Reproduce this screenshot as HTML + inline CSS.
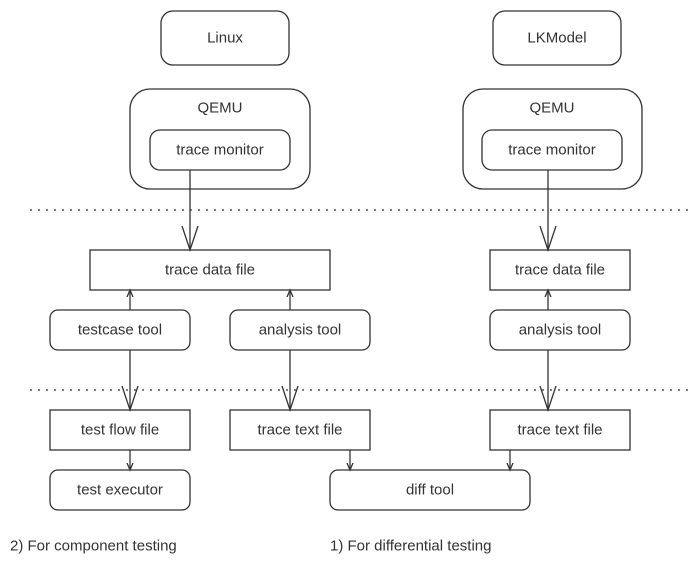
<!DOCTYPE html>
<html><head><meta charset="utf-8"><style>
html,body{margin:0;padding:0;background:#fff}
svg text{font-family:"Liberation Sans",sans-serif;font-size:15px;fill:#333;text-anchor:middle;dominant-baseline:central}
</style></head><body>
<svg width="700" height="567" viewBox="0 0 700 567" xmlns="http://www.w3.org/2000/svg">
<g fill="none" stroke="#333" stroke-width="1.3">
<rect x="161" y="11" width="128" height="54" rx="12"/>
<rect x="493" y="11" width="128" height="54" rx="12"/>
<rect x="130" y="89" width="180" height="100" rx="20"/>
<rect x="150" y="130" width="140" height="40" rx="10"/>
<rect x="463" y="89" width="179" height="100" rx="20"/>
<rect x="482" y="130" width="140" height="40" rx="10"/>
<rect x="90" y="250" width="240" height="40"/>
<rect x="490" y="250" width="140" height="40"/>
<rect x="50" y="310" width="140" height="40" rx="8"/>
<rect x="230" y="310" width="140" height="40" rx="8"/>
<rect x="490" y="310" width="140" height="40" rx="8"/>
<rect x="50" y="410" width="140" height="40"/>
<rect x="230" y="410" width="140" height="40"/>
<rect x="490" y="410" width="140" height="40"/>
<rect x="50" y="470" width="140" height="40" rx="8"/>
<rect x="330" y="470" width="200" height="40" rx="8"/>
<line x1="30" y1="210" x2="690" y2="210" stroke-dasharray="2 6"/>
<line x1="30" y1="390" x2="690" y2="390" stroke-dasharray="2 6"/>
<line x1="190" y1="170" x2="190" y2="250"/><path d="M182 226 L190 250 L198 226"/>
<line x1="548" y1="170" x2="548" y2="250"/><path d="M540 226 L548 250 L556 226"/>
<line x1="130" y1="310" x2="130" y2="290"/><path d="M127 297 L130 290 L133 297"/>
<line x1="290" y1="310" x2="290" y2="290"/><path d="M287 297 L290 290 L293 297"/>
<line x1="548" y1="310" x2="548" y2="290"/><path d="M545 297 L548 290 L551 297"/>
<line x1="130" y1="350" x2="130" y2="410"/><path d="M122 386 L130 410 L138 386"/>
<line x1="290" y1="350" x2="290" y2="410"/><path d="M282 386 L290 410 L298 386"/>
<line x1="548" y1="350" x2="548" y2="410"/><path d="M540 386 L548 410 L556 386"/>
<line x1="130" y1="450" x2="130" y2="470"/><path d="M127 463 L130 470 L133 463"/>
<line x1="350" y1="450" x2="350" y2="470"/><path d="M347 463 L350 470 L353 463"/>
<line x1="510" y1="450" x2="510" y2="470"/><path d="M507 463 L510 470 L513 463"/>
</g>
<text x="225" y="38">Linux</text>
<text x="557" y="38">LKModel</text>
<text x="220" y="108">QEMU</text>
<text x="220" y="150">trace monitor</text>
<text x="552" y="108">QEMU</text>
<text x="552" y="150">trace monitor</text>
<text x="210" y="270">trace data file</text>
<text x="560" y="270">trace data file</text>
<text x="120" y="330">testcase tool</text>
<text x="300" y="330">analysis tool</text>
<text x="560" y="330">analysis tool</text>
<text x="120" y="430">test flow file</text>
<text x="300" y="430">trace text file</text>
<text x="560" y="430">trace text file</text>
<text x="120" y="490">test executor</text>
<text x="430" y="490">diff tool</text>
<text x="10" y="546" style="text-anchor:start">2) For component testing</text>
<text x="330" y="546" style="text-anchor:start">1) For differential testing</text>
</svg>
</body></html>
